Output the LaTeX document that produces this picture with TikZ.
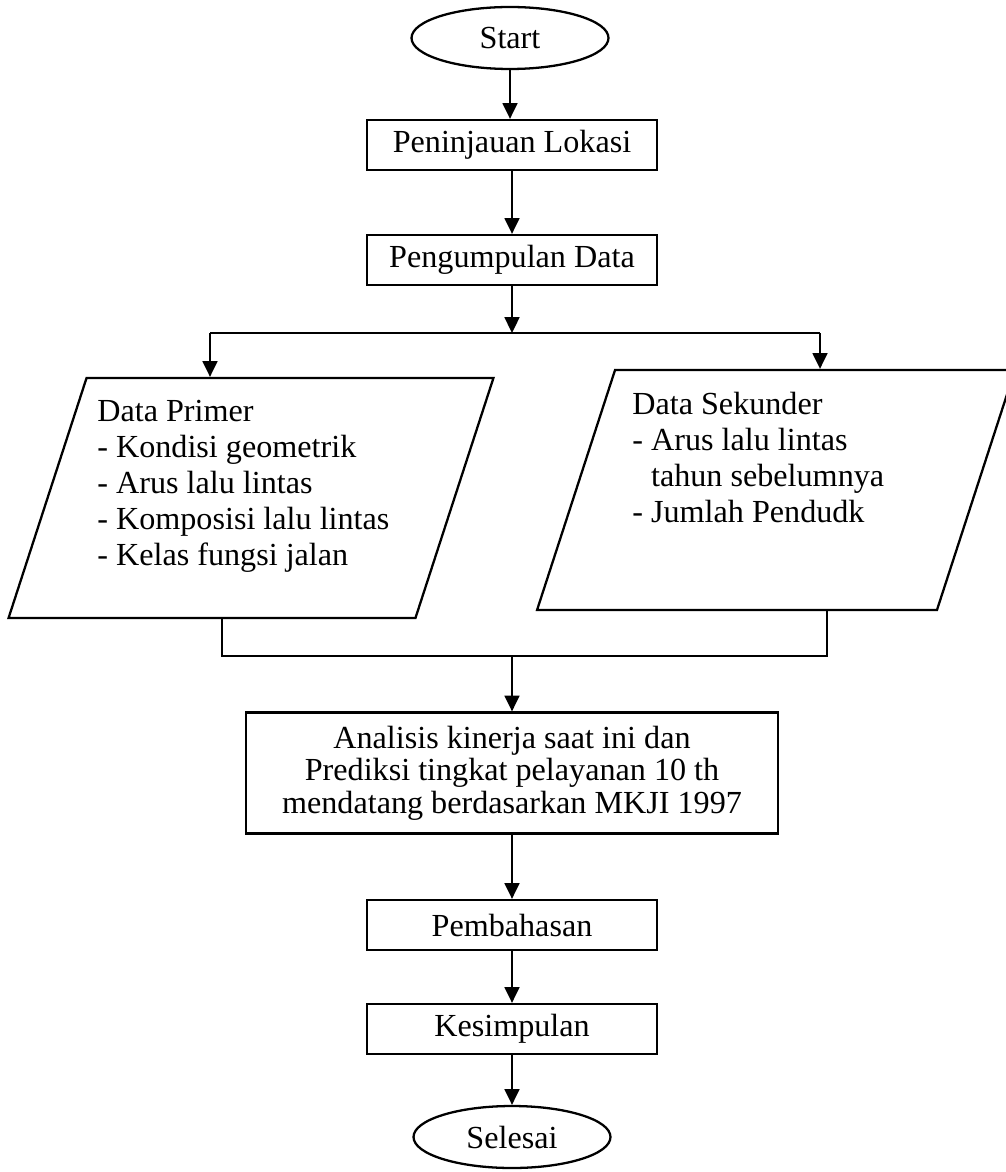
\documentclass[tikz,border=0pt]{standalone}
\usepackage{fontspec}
\setmainfont{Liberation Serif}
\usetikzlibrary{arrows.meta, shapes.geometric}

\begin{document}
\begin{tikzpicture}[
   x = 0.02cm, y = -0.02cm,
   every node/.style = {text=black, font=\fontsize{18.3}{20.5}\selectfont},
   terminal/.style = {draw, ellipse, line width=1.3pt,
      minimum width=3.94cm, minimum height=1.24cm},
   process/.style = {draw, rectangle, line width=1.3pt,
      minimum width=5.8cm, minimum height=1cm},
   datainput/.style = {draw, trapezium, trapezium left angle=72,
      trapezium right angle=108, line width=1.3pt,
      inner ysep=2.4cm, minimum width=0pt, minimum height=0pt},
   listtext/.style = {anchor=north west, align=left, inner sep=0pt},
   flow/.style = {line width=1.1pt, -{Triangle[length=9pt, width=8.5pt]}},
   link/.style = {line width=1.1pt},
]
   \useasboundingbox (0,0) rectangle (1006,1172);
   % top of the chart
   \node [terminal] (start) at (510,38) {Start};
   \node [process] (lokasi) at (512,145) {Peninjauan Lokasi};
   \node [process] (pengumpulan) at (512,260) {Pengumpulan Data};
   % the two data inputs
   \node [datainput, inner xsep=3.29cm] (primer) at (251,498) {};
   \node [listtext] (primerText) at (97,400)
      {Data Primer\\- Kondisi geometrik\\- Arus lalu lintas\\
       - Komposisi lalu lintas\\- Kelas fungsi jalan};
   \node [datainput, inner xsep=3.22cm] (sekunder) at (776,490) {};
   \node [listtext] (sekunderText) at (632,392)
      {Data Sekunder\\- Arus lalu lintas\\\phantom{-} tahun sebelumnya\\
       - Jumlah Pendudk};
   % bottom of the chart
   \node [process, minimum width=10.64cm, minimum height=2.42cm, align=center,
      font=\fontsize{18.3}{18.6}\selectfont] (analisis) at (512,773)
      {Analisis kinerja saat ini dan\\Prediksi tingkat pelayanan 10 th\\
       mendatang berdasarkan MKJI 1997};
   \node [process] (pembahasan) at (512,925) {Pembahasan};
   \node [process] (kesimpulan) at (512,1029) {Kesimpulan};
   \node [terminal] (selesai) at (512,1137) {Selesai};
   % branch and join points
   \coordinate (split) at (512,333);
   \coordinate (splitL) at (210,333);
   \coordinate (splitR) at (820,333);
   \coordinate (join) at (512,656);
   \coordinate (joinL) at (222,656);
   \coordinate (joinR) at (827,656);
   % connectors
   \draw [flow] (start) -- (start |- lokasi.north);
   \draw [flow] (lokasi) -- (pengumpulan);
   \draw [flow] (pengumpulan) -- (split);
   \draw [link] (splitL) -- (splitR);
   \draw [flow] (splitL) -- (splitL |- primer.north);
   \draw [flow] (splitR) -- (splitR |- sekunder.north);
   \draw [link] (joinL |- primer.south) -- (joinL) -- (joinR)
      -- (joinR |- sekunder.south);
   \draw [flow] (join) -- (analisis);
   \draw [flow] (analisis) -- (pembahasan);
   \draw [flow] (pembahasan) -- (kesimpulan);
   \draw [flow] (kesimpulan) -- (selesai);
\end{tikzpicture}
\end{document}
